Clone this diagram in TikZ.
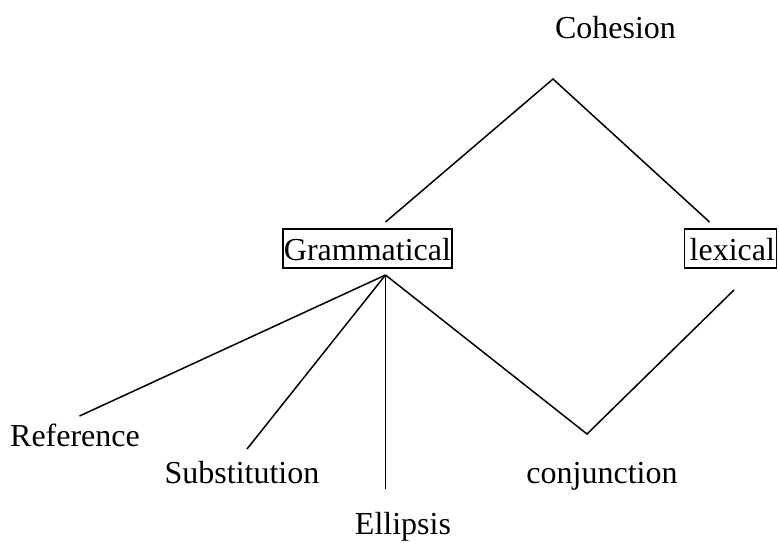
\documentclass[tikz,border=0pt]{standalone}
\usepackage{fontspec}
\setmainfont{Liberation Serif}
\usetikzlibrary{positioning}

\begin{document}
\begin{tikzpicture}[x=1pt, y=-1pt,
    word/.style={anchor=base, inner sep=0pt, font=\fontsize{32}{38}\selectfont},
    boxed/.style={word, draw, line width=1.8pt, inner xsep=1pt, inner ysep=3pt, text height=28pt, text depth=5pt}
    ]
    \useasboundingbox (0,0) rectangle (779,542);
    \node[word] (coh) at (615.5,38) {Cohesion};
    \coordinate (top) at (553,79);
    \coordinate (tl) at (385.5,222);
    \coordinate (tr) at (709.5,222);
 \draw [line width=1.5pt](tl) -- (top) -- (tr);

    \node[boxed] (gram) at (367.5,260) {Grammatical};
    \node[boxed, text width=89pt, align=right, inner xsep=1.5pt] (lex) at (730.5,260) {lexical};

    \coordinate (g) at (385.5,275);
    \node[word] (ref) at (75,446) {Reference};
    \node[word] (sub) at (242,483) {Substitution};
    \node[word] (ell) at (403,534) {Ellipsis};
    \node[word] (con) at (602,483) {conjunction};
    \coordinate (r1) at (79.5,416);
    \coordinate (s1) at (247,449);
    \coordinate (e1) at (385.5,489);
    \coordinate (c1) at (587,434);
    \coordinate (l1) at (734,290);
\draw  [line width=1.5pt](g) -- (r1);
\draw  [line width=1.5pt](g) -- (s1);
\draw  [line width=1.5pt](g) -- (e1);
\draw  [line width=1.5pt](g) -- (c1) -- (l1);

 \end{tikzpicture}
\end{document}
